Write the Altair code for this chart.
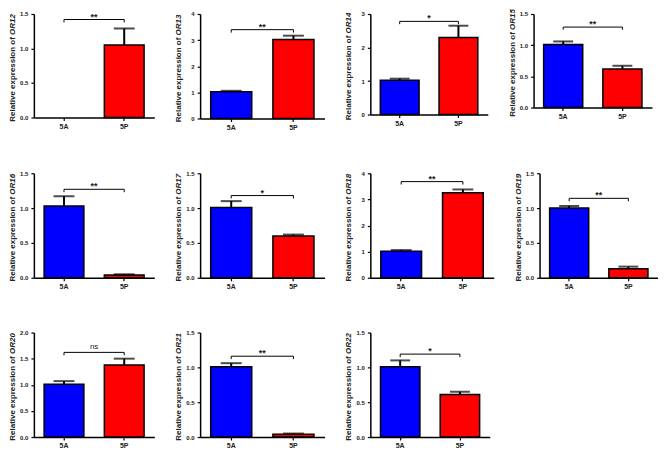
import altair as alt
import pandas as pd

genes = ["OR12", "OR13", "OR14", "OR15", "OR16", "OR17", "OR18", "OR19", "OR20", "OR21", "OR22"]
groups = ["5A", "5P"]
mean_5A = [0.0, 1.02, 1.02, 1.01, 1.03, 1.01, 1.02, 1.00, 1.01, 1.01, 1.01]
upper_5A = [0.0, 1.06, 1.07, 1.06, 1.17, 1.10, 1.06, 1.03, 1.07, 1.06, 1.10]
mean_5P = [1.05, 3.02, 2.30, 0.62, 0.04, 0.60, 3.25, 0.13, 1.38, 0.04, 0.61]
upper_5P = [1.29, 3.17, 2.65, 0.67, 0.05, 0.62, 3.38, 0.16, 1.50, 0.05, 0.65]
y_max = [1.5, 4, 3, 1.5, 1.5, 1.5, 4, 1.5, 2.0, 1.5, 1.5]
y_step = [0.5, 1, 1, 0.5, 0.5, 0.5, 1, 0.5, 0.5, 0.5, 0.5]
bracket_at = [1.42, 3.40, 2.78, 1.29, 1.27, 1.18, 3.68, 1.14, 1.62, 1.16, 1.19]
signif = ["**", "**", "*", "**", "**", "*", "**", "**", "ns", "**", "*"]
title_prefix = "Relative expression of "

FONT = "Liberation Sans"
# approximate Liberation Sans Bold advance widths (per 1000 em) for title placement
ADV = {"R": 722, "e": 556, "l": 278, "a": 556, "t": 333, "i": 278, "v": 556, " ": 278,
       "x": 556, "p": 611, "r": 389, "s": 556, "o": 611, "n": 611, "f": 333}
TITLE_SIZE = 8


def text_len(s, size):
    return sum(ADV.get(c, 556) for c in s) * size / 1000.0


def panel(i, w, h):
    g = genes[i]
    ymax = y_max[i]
    step = y_step[i]
    n_ticks = int(round(ymax / step)) + 1
    tick_vals = [round(k * step, 2) for k in range(n_ticks)]
    fmt = ".1f" if step < 1 else "d"

    bars = pd.DataFrame({"group": groups,
                         "mean": [mean_5A[i], mean_5P[i]],
                         "upper": [upper_5A[i], upper_5P[i]]})
    drop = ymax * 0.028
    b = bracket_at[i]
    br = pd.DataFrame({"group": ["5A", "5A", "5P", "5P"],
                       "val": [b - drop, b, b, b - drop],
                       "ord": [0, 1, 2, 3]})
    lab = pd.DataFrame({"val": [b], "label": [signif[i]]})

    xscale = alt.Scale(domain=groups, paddingInner=0.34, paddingOuter=0.17)
    yscale = alt.Scale(domain=[0, ymax], nice=False, zero=True)
    xaxis = alt.Axis(title=None, labelAngle=0, labelFontSize=7, labelPadding=2,
                     labelFontWeight="bold", tickSize=3)
    yaxis = alt.Axis(title=None, values=tick_vals, format=fmt, labelFontSize=6,
                     labelPadding=3, labelFontWeight="bold", tickSize=3)

    bar = alt.Chart(bars).transform_filter("datum.mean > 0").mark_bar(
        stroke="black", strokeWidth=1.5).encode(
        x=alt.X("group:N", scale=xscale, axis=xaxis),
        y=alt.Y("mean:Q", scale=yscale, axis=yaxis),
        fill=alt.Color("group:N", scale=alt.Scale(domain=groups, range=["#0000ff", "#ff0000"]),
                       legend=None),
    )
    err = alt.Chart(bars).transform_filter("datum.mean > 0").mark_rule(
        color="black", strokeWidth=2).encode(
        x=alt.X("group:N", scale=xscale, axis=xaxis),
        y=alt.Y("mean:Q", scale=yscale, axis=yaxis),
        y2="upper:Q",
    )
    cap = alt.Chart(bars).transform_filter("datum.mean > 0").mark_tick(
        color="black", thickness=2, size=round(w * 0.17)).encode(
        x=alt.X("group:N", scale=xscale, axis=xaxis),
        y=alt.Y("upper:Q", scale=yscale, axis=yaxis),
    )
    bracket = alt.Chart(br).mark_line(color="black", strokeWidth=1).encode(
        x=alt.X("group:N", scale=xscale, axis=xaxis),
        y=alt.Y("val:Q", scale=yscale, axis=yaxis),
        order="ord:Q",
    )
    is_ns = signif[i] == "ns"
    stars = alt.Chart(lab).mark_text(
        font=FONT, fontSize=8 if is_ns else 9, fontWeight="normal" if is_ns else "bold",
        baseline="bottom", dy=-1 if is_ns else 2, color="#222222").encode(
        x=alt.value(w / 2),
        y=alt.Y("val:Q", scale=yscale, axis=yaxis),
        text="label:N",
    )
    len1 = text_len(title_prefix, TITLE_SIZE)
    len2 = text_len(g, TITLE_SIZE)
    y0 = h / 2 + 3 + (len1 + len2) / 2
    t1 = alt.Chart(pd.DataFrame({"t": [title_prefix.strip()]})).mark_text(
        font=FONT, fontSize=TITLE_SIZE, fontWeight="bold", angle=270, align="left",
        baseline="middle", color="#222222").encode(
        x=alt.value(-21), y=alt.value(y0), text="t:N")
    t2 = alt.Chart(pd.DataFrame({"t": [g]})).mark_text(
        font=FONT, fontSize=TITLE_SIZE, fontWeight="bold", fontStyle="italic", angle=270,
        align="left", baseline="middle", color="#222222").encode(
        x=alt.value(-21), y=alt.value(y0 - len1), text="t:N")
    return alt.layer(bar, err, cap, bracket, stars, t1, t2).properties(width=w, height=h)


row1 = alt.hconcat(panel(0, 121, 104), panel(1, 125, 105), panel(2, 118, 101), panel(3, 119, 94),
                   spacing=20)
row2 = alt.hconcat(panel(4, 121, 105), panel(5, 125, 105), panel(6, 124, 105), panel(7, 119, 105),
                   spacing=20)
row3 = alt.hconcat(panel(8, 121, 105), panel(9, 125, 105), panel(10, 120, 105), spacing=20)

chart = alt.vconcat(row1, row2, row3, spacing=40).properties(padding=0).configure_view(
    stroke=None).configure_axis(
    grid=False, domainColor="black", domainWidth=1.5, tickColor="black", tickWidth=1.2,
    labelColor="#222222", labelFont=FONT,
)

chart.save("out.html", embed_options={"renderer": "svg", "actions": False})
